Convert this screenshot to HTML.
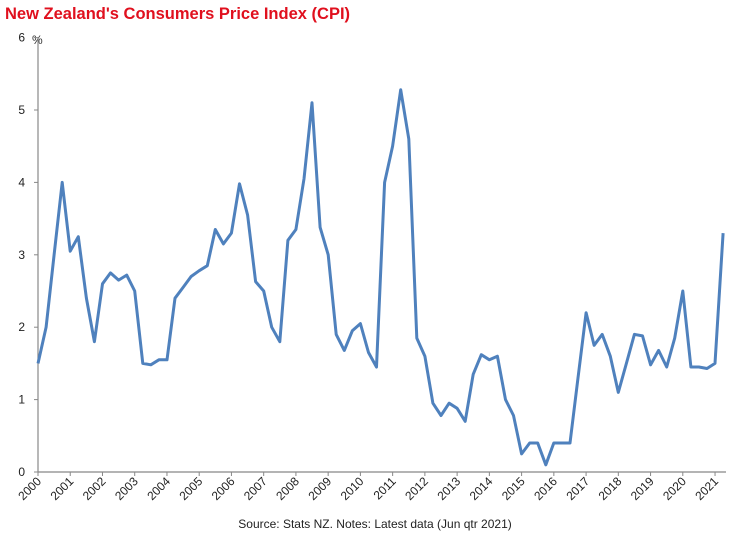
<!DOCTYPE html>
<html><head><meta charset="utf-8"><style>
body{margin:0;background:#fff;width:742px;height:535px;overflow:hidden;font-family:"Liberation Sans",Arial,sans-serif}
</style></head><body>
<svg id="chart" width="742" height="535" xmlns="http://www.w3.org/2000/svg">
<text x="5" y="19" font-size="16.5" font-weight="bold" fill="#e0101e">New Zealand's Consumers Price Index (CPI)</text>
<text x="32" y="44" font-size="12" fill="#333">%</text>
<g id="axes"></g>
<polyline id="line" fill="none" stroke="#4f81bd" stroke-width="3" stroke-linejoin="round"/>
<text x="375" y="528" font-size="12" fill="#222" text-anchor="middle">Source: Stats NZ. Notes: Latest data (Jun qtr 2021)</text>
</svg>
<script>
const years = ["2000","2001","2002","2003","2004","2005","2006","2007","2008","2009","2010","2011","2012","2013","2014","2015","2016","2017","2018","2019","2020","2021"];
const yTicks = [0,1,2,3,4,5,6];
const cpi = [1.5,2.0,3.0,4.0, 3.05,3.25,2.4,1.8, 2.6,2.75,2.65,2.72, 2.5,1.5,1.48,1.55,
 1.55,2.4,2.55,2.7, 2.78,2.85,3.35,3.15, 3.3,3.98,3.55,2.63, 2.5,2.0,1.8,3.2,
 3.35,4.05,5.1,3.38, 3.0,1.9,1.68,1.95, 2.05,1.65,1.45,4.0, 4.5,5.28,4.6,1.85,
 1.6,0.95,0.78,0.95, 0.88,0.7,1.35,1.62, 1.55,1.6,1.0,0.78, 0.25,0.4,0.4,0.1,
 0.4,0.4,0.4,1.3, 2.2,1.75,1.9,1.6, 1.1,1.5,1.9,1.88, 1.48,1.68,1.45,1.85,
 2.5,1.45,1.45,1.43, 1.5,3.3];
const X0=38, YR=32.24, Y0=472, YU=72.4;
const xq = i => X0 + i*YR/4;
const xy = k => X0 + k*YR;
const yv = v => Y0 - v*YU;
const NS="http://www.w3.org/2000/svg";
const ax=document.getElementById('axes');
function mk(t,a){const e=document.createElementNS(NS,t);for(const k in a)e.setAttribute(k,a[k]);ax.appendChild(e);return e;}
let e=mk('line',{x1:X0,y1:yv(6),x2:X0,y2:Y0,stroke:'#888','stroke-width':1.2});


e=mk('line',{x1:X0,y1:Y0,x2:726,y2:Y0,stroke:'#888','stroke-width':1.2});


yTicks.forEach(v=>{
  mk('line',{x1:X0-4,y1:yv(v),x2:X0,y2:yv(v),stroke:'#888'});
  const t=mk('text',{x:25,y:yv(v)+4,'font-size':12,fill:'#222','text-anchor':'end'});
  t.textContent=v;
  
  
});
years.forEach((y,k)=>{
  const x=xy(k);
  mk('line',{x1:x,y1:Y0,x2:x,y2:Y0+4,stroke:'#888'});
  const t=mk('text',{x:x+4,y:Y0+10,'font-size':12,fill:'#222','text-anchor':'end',transform:`rotate(-45 ${x+4} ${Y0+10})`});
  t.textContent=y;
  
  
});
document.getElementById('line').setAttribute('points',cpi.map((v,i)=>xq(i).toFixed(1)+','+yv(v).toFixed(1)).join(' '));
</script>
</body></html>
